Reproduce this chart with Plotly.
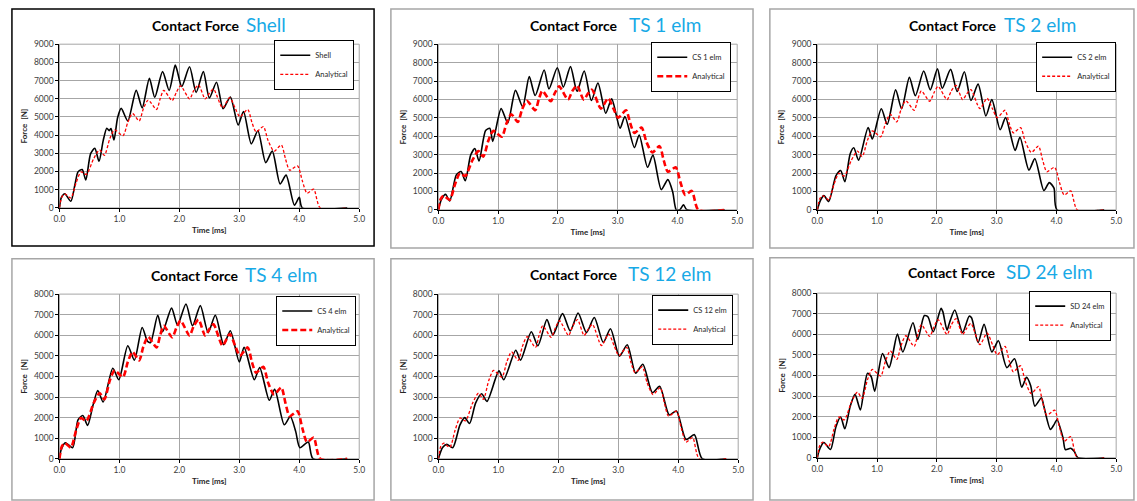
import plotly.graph_objects as go

# ---------------- data ----------------
TIME_ANALYTICAL = [0.00, 0.04, 0.09, 0.19, 0.28, 0.36, 0.45, 0.57,
                   0.67, 0.75, 0.84, 0.92, 1.06, 1.14, 1.22, 1.33,
                   1.40, 1.48, 1.62, 1.68, 1.74, 1.88, 1.95, 2.02,
                   2.17, 2.24, 2.32, 2.43, 2.50, 2.57, 2.72, 2.84,
                   2.93, 3.01, 3.14, 3.21, 3.28, 3.40, 3.48, 3.58,
                   3.70, 3.77, 3.84, 3.97, 4.05, 4.13, 4.24, 4.35,
                   4.80]
FORCE_ANALYTICAL = [0, 600, 760, 550, 1400, 1980, 1840, 2700,
                    3190, 2890, 3800, 4290, 3970, 4700, 5190, 4780,
                    5450, 5930, 5410, 6000, 6460, 5900, 6350, 6710,
                    5990, 6450, 6760, 5990, 6300, 6530, 5500, 6060,
                    5500, 5010, 5410, 4700, 4180, 4470, 3700, 3120,
                    3460, 2700, 2070, 2310, 1500, 810, 1030, 0,
                    0]

TIME_SHELL = [0.00, 0.03, 0.09, 0.19, 0.26, 0.31, 0.38, 0.44,
              0.52, 0.59, 0.66, 0.73, 0.79, 0.83, 0.86, 0.91,
              0.97, 1.03, 1.14, 1.28, 1.38, 1.50, 1.59, 1.72,
              1.83, 1.93, 1.96, 2.04, 2.17, 2.28, 2.40, 2.50,
              2.62, 2.73, 2.85, 2.98, 3.07, 3.20, 3.31, 3.44,
              3.55, 3.68, 3.78, 3.92, 4.00, 4.05, 4.80]
FORCE_SHELL = [0, 550, 780, 360, 1300, 1980, 2110, 1530,
               2980, 3280, 2560, 3700, 4380, 4250, 4360, 3730,
               4960, 5470, 4780, 6460, 5500, 7120, 6080, 7490,
               6460, 7850, 7600, 6670, 7760, 6350, 7490, 6040,
               6910, 5450, 6100, 4560, 5300, 3520, 4240, 2490,
               3120, 1320, 1800, 140, 580, 0, 0]

TIME_TS1 = [0.00, 0.05, 0.12, 0.19, 0.30, 0.38, 0.45, 0.54,
            0.61, 0.68, 0.79, 0.86, 0.91, 1.05, 1.16, 1.29,
            1.41, 1.52, 1.62, 1.77, 1.85, 1.99, 2.09, 2.21,
            2.32, 2.44, 2.56, 2.67, 2.80, 2.90, 3.04, 3.12,
            3.28, 3.36, 3.50, 3.59, 3.73, 3.84, 3.92, 3.98,
            4.04, 4.10, 4.16, 4.79]
FORCE_TS1 = [0, 550, 840, 480, 1900, 2080, 1580, 2970,
             3330, 2650, 4310, 4430, 3720, 5500, 4720, 6490,
             5600, 7240, 6210, 7600, 6570, 7720, 6670, 7780,
             6440, 7540, 5940, 6890, 5250, 6030, 4430, 5070,
             3380, 4070, 2310, 2970, 1100, 1640, 980, 0,
             0, 270, 0, 0]

TIME_TS2 = [0.00, 0.05, 0.11, 0.19, 0.31, 0.39, 0.46, 0.55,
            0.61, 0.69, 0.85, 0.92, 1.07, 1.17, 1.31, 1.41,
            1.54, 1.64, 1.78, 1.89, 2.01, 2.09, 2.23, 2.34,
            2.46, 2.57, 2.69, 2.82, 2.92, 3.06, 3.15, 3.31,
            3.39, 3.54, 3.64, 3.79, 3.88, 3.96, 4.01, 4.80]
FORCE_TS2 = [0, 500, 770, 450, 1850, 2140, 1530, 3050,
             3370, 2690, 4470, 3850, 5490, 4650, 6520, 5490,
             7200, 6200, 7540, 6520, 7660, 6610, 7630, 6430,
             7500, 5940, 6830, 5100, 5990, 4350, 5010, 3230,
             3940, 2160, 2780, 1050, 1480, 1180, 0, 0]

TIME_TS4 = [0.00, 0.03, 0.10, 0.22, 0.31, 0.39, 0.47, 0.56,
            0.64, 0.73, 0.89, 0.99, 1.14, 1.25, 1.38, 1.47,
            1.52, 1.64, 1.72, 1.87, 1.97, 2.11, 2.22, 2.35,
            2.48, 2.60, 2.74, 2.85, 3.00, 3.08, 3.25, 3.34,
            3.50, 3.59, 3.75, 3.85, 3.94, 4.01, 4.15, 4.23,
            4.80]
FORCE_TS4 = [0, 450, 780, 540, 1890, 2100, 1620, 2600,
             3320, 2760, 4400, 3840, 5490, 4790, 6380, 5700,
             5650, 6970, 6170, 7320, 6490, 7520, 6460, 7440,
             6130, 6970, 5540, 6220, 4700, 5410, 3840, 4430,
             2840, 3370, 1650, 2050, 1330, 540, 810, 0,
             0]

TIME_TS12 = [0.00, 0.07, 0.14, 0.24, 0.36, 0.44, 0.52, 0.62,
             0.72, 0.81, 1.01, 1.09, 1.29, 1.37, 1.55, 1.66,
             1.81, 1.91, 2.07, 2.20, 2.33, 2.47, 2.60, 2.75,
             2.87, 3.02, 3.15, 3.29, 3.41, 3.57, 3.69, 3.85,
             3.97, 4.13, 4.27, 4.40, 4.80]
FORCE_TS12 = [0, 550, 700, 540, 1650, 2000, 1710, 2700,
              3160, 2790, 4270, 3840, 5270, 4790, 6170, 5490,
              6760, 6020, 7050, 6210, 7080, 6130, 6860, 5650,
              6320, 4980, 5540, 4160, 4590, 3210, 3520, 2130,
              2320, 940, 1170, 0, 0]

TIME_SD24 = [0.00, 0.03, 0.11, 0.22, 0.31, 0.39, 0.46, 0.55,
             0.63, 0.72, 0.78, 0.84, 0.90, 0.96, 1.09, 1.20,
             1.26, 1.34, 1.43, 1.60, 1.68, 1.79, 1.85, 1.94,
             2.07, 2.10, 2.17, 2.21, 2.30, 2.43, 2.54, 2.58,
             2.69, 2.79, 2.92, 3.03, 3.17, 3.30, 3.42, 3.50,
             3.57, 3.64, 3.75, 3.79, 3.90, 3.96, 4.01, 4.11,
             4.15, 4.24, 4.30, 4.36, 4.80]
FORCE_SD24 = [0, 350, 740, 400, 1500, 1980, 1410, 2500,
              3080, 2320, 3300, 4110, 3950, 3240, 5060, 4380,
              5000, 6010, 5140, 6560, 5750, 6910, 6850, 6120,
              7260, 7100, 6200, 6550, 7180, 6090, 6880, 6800,
              5600, 6480, 5140, 5690, 4380, 4810, 3430, 3910,
              3500, 2510, 2920, 2500, 1380, 1610, 1850, 980,
              400, 460, 300, 0, 0]

PANEL_TITLES = ["Shell", "TS 1 elm", "TS 2 elm", "TS 4 elm", "TS 12 elm", "SD 24 elm"]
SERIES_NAMES = ["Shell", "CS 1 elm", "CS 2 elm", "CS 4 elm", "CS 12 elm", "SD 24 elm"]
SERIES_TIME = [TIME_SHELL, TIME_TS1, TIME_TS2, TIME_TS4, TIME_TS12, TIME_SD24]
SERIES_FORCE = [FORCE_SHELL, FORCE_TS1, FORCE_TS2, FORCE_TS4, FORCE_TS12, FORCE_SD24]
Y_MAX = [9000, 9000, 9000, 8000, 8000, 8000]
X_TICKS = [0, 1, 2, 3, 4, 5]
X_TICK_LABELS = ["0.0", "1.0", "2.0", "3.0", "4.0", "5.0"]

# ---------------- layout geometry (pixels) ----------------
W, H = 1137, 501
# plot areas: (x0, x1, ytop, ybottom)
PLOT_AREAS = [(54, 357, 40, 207), (437, 739, 40, 209), (820, 1122, 40, 209),
              (54, 357, 295, 463), (437, 740, 295, 463), (820, 1122, 294, 462)]
# outer boxes
BOXES = [(6, 372, 4, 246), (389, 755, 4, 248), (772, 1140, 4, 248),
         (6, 372, 259, 505), (389, 755, 259, 505), (772, 1140, 258, 505)]
BOX_COLORS = ["#000000", "#A6A6A6", "#A6A6A6", "#A6A6A6", "#A6A6A6", "#A6A6A6"]
TITLE_CF_X = [146, 528, 911, 145, 528, 910]
TITLE_LBL_X = [241, 628, 1007, 240, 627, 1009]
TITLE_Y = [21, 21, 21, 276, 275, 273]
LEGEND_POS = [(352, 61), (733, 63), (1122, 63), (354, 322), (735, 321), (1117, 317)]
THICK_DASH = [False, True, False, True, False, False]

FONT = "Lato, 'Liberation Sans', sans-serif"
BLUE = "#17A9E6"

def px(x):
    return x / W

def py(y):
    return 1 - y / H

fig = go.Figure()
layout = dict(width=W, height=H, margin=dict(l=0, r=0, t=0, b=0),
              paper_bgcolor="white", plot_bgcolor="white",
              font=dict(family=FONT, size=8, color="#404040"),
              shapes=[], annotations=[])

for i in range(6):
    n = "" if i == 0 else str(i + 1)
    xa, ya = "x" + n, "y" + n
    leg = "legend" + n
    x0, x1, yt, yb = PLOT_AREAS[i]

    fig.add_trace(go.Scatter(
        x=SERIES_TIME[i], y=SERIES_FORCE[i], name=SERIES_NAMES[i],
        mode="lines", line=dict(color="black", width=1.6, shape="spline", smoothing=0.7),
        xaxis=xa, yaxis=ya, legend=leg))
    if THICK_DASH[i]:
        dl = dict(color="#FF0000", width=2.6, dash="6px,3px", shape="spline", smoothing=0.7)
    else:
        dl = dict(color="#FF0000", width=1.3, dash="3px,2px", shape="spline", smoothing=0.7)
    fig.add_trace(go.Scatter(
        x=TIME_ANALYTICAL, y=FORCE_ANALYTICAL, name="Analytical",
        mode="lines", line=dl, xaxis=xa, yaxis=ya, legend=leg))

    layout["xaxis" + n] = dict(
        domain=[px(x0), px(x1)], anchor=ya, range=[0, 5],
        tickvals=X_TICKS, ticktext=X_TICK_LABELS,
        showgrid=True, gridcolor="#A6A6A6", gridwidth=1,
        showline=True, linecolor="black", linewidth=1.2,
        ticks="outside", ticklen=3, tickcolor="black",
        tickfont=dict(size=8.5, color="#404040"), zeroline=False,
        title=dict(text="<b>Time [ms]</b>", font=dict(size=8, color="#262626"), standoff=4))
    layout["yaxis" + n] = dict(
        domain=[py(yb), py(yt)], anchor=xa, range=[0, Y_MAX[i]], dtick=1000,
        showgrid=True, gridcolor="#A6A6A6", gridwidth=1,
        showline=True, linecolor="black", linewidth=1.2,
        ticks="outside", ticklen=3, tickcolor="black",
        tickfont=dict(size=8.5, color="#404040"), zeroline=False,
        title=dict(text="<b>Force  [N]</b>", font=dict(size=8, color="#262626"), standoff=5))
    lx, ly = LEGEND_POS[i]
    layout[leg] = dict(x=px(lx), y=py(ly), xanchor="right", yanchor="middle",
                       xref="paper", yref="paper",
                       bgcolor="white", bordercolor="black", borderwidth=1,
                       font=dict(size=7.5, color="#262626"), itemwidth=30,
                       tracegroupgap=0)
    layout["shapes"].append(dict(type="rect", xref="paper", yref="paper",
                                 x0=px(x0), x1=px(x1), y0=py(yb), y1=py(yt),
                                 line=dict(color="#A6A6A6", width=1), layer="below"))
    bx0, bx1, byt, byb = BOXES[i]
    layout["shapes"].append(dict(type="rect", xref="paper", yref="paper",
                                 x0=px(bx0), x1=px(bx1), y0=py(byb), y1=py(byt),
                                 line=dict(color=BOX_COLORS[i], width=1.5)))
    layout["annotations"].append(dict(
        xref="paper", yref="paper", x=px(TITLE_CF_X[i]), y=py(TITLE_Y[i]),
        xanchor="left", yanchor="middle", showarrow=False,
        text="<b>Contact Force</b>", font=dict(size=14, color="black", family=FONT)))
    layout["annotations"].append(dict(
        xref="paper", yref="paper", x=px(TITLE_LBL_X[i]), y=py(TITLE_Y[i] - 1),
        xanchor="left", yanchor="middle", showarrow=False,
        text=PANEL_TITLES[i], font=dict(size=19, color=BLUE, family=FONT)))

fig.update_layout(**layout)
fig.write_html("out.html", config={"displayModeBar": False},
               post_script="document.body.style.margin='0';document.body.style.overflow='hidden';")
